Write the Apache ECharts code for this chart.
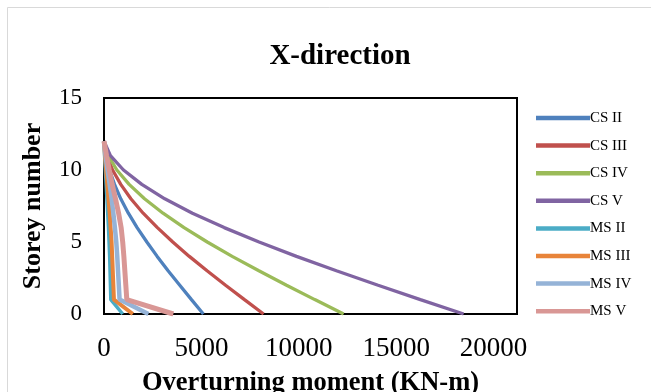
<!DOCTYPE html>
<html>
<head>
<meta charset="utf-8">
<script src="https://cdn.jsdelivr.net/npm/echarts@6/dist/echarts.min.js"></script>
<style>
html,body{margin:0;padding:0;background:#fff;}
#c{width:651px;height:392px;}
</style>
</head>
<body>
<div id="c"></div>
<script>
// Storey levels (0 = base, 12 = roof)
const storeys = [0, 1, 2, 3, 4, 5, 6, 7, 8, 9, 10, 11, 12];

// Overturning moment (KN-m) at each storey
const csII  = [5100, 4490, 3890, 3290, 2730, 2200, 1700, 1250, 860, 540, 280, 90, 0];
const csIII = [8190, 7210, 6240, 5290, 4380, 3530, 2740, 2010, 1380, 860, 440, 150, 0];
const csIV  = [12300, 10820, 9370, 7950, 6580, 5300, 4110, 3030, 2080, 1290, 660, 220, 0];
const csV   = [18460, 16240, 14070, 11930, 9880, 7960, 6170, 4540, 3120, 1940, 1000, 330, 0];
const msII  = [960, 350, 330, 310, 290, 260, 230, 190, 150, 110, 70, 30, 0];
const msIII = [1480, 510, 480, 450, 420, 390, 340, 290, 230, 170, 110, 50, 0];
const msIV  = [2280, 800, 760, 720, 680, 630, 560, 480, 390, 290, 180, 80, 0];
const msV   = [3560, 1170, 1120, 1070, 1020, 960, 880, 750, 590, 420, 270, 130, 0];

const seriesNames = ['CS II', 'CS III', 'CS IV', 'CS V', 'MS II', 'MS III', 'MS IV', 'MS V'];
const seriesValues = [csII, csIII, csIV, csV, msII, msIII, msIV, msV];
const colors = ['#4F81BD', '#C0504D', '#9BBB59', '#8064A2', '#4BACC6', '#E8843A', '#95B3D7', '#D99795'];
const widths = [3.3, 3.3, 3.3, 3.3, 3.5, 4, 4.5, 5];

const xTicks = [0, 5000, 10000, 15000, 20000];

const font = 'Liberation Serif, Times New Roman, serif';

const chart = echarts.init(document.getElementById('c'), null, {renderer: 'canvas'});

chart.setOption({
  animation: false,
  backgroundColor: '#fff',
  color: colors,
  title: {
    text: 'X-direction',
    left: 335,
    textAlign: 'center',
    top: 37,
    textStyle: {fontFamily: font, fontSize: 29, fontWeight: 'bold', color: '#000'}
  },
  graphic: [{
    type: 'rect',
    shape: {x: 7.5, y: 7.5, width: 700, height: 450},
    style: {fill: 'none', stroke: '#d9d9d9', lineWidth: 1},
    silent: true
  }],
  legend: {
    orient: 'vertical',
    left: 531,
    top: 105.5,
    itemWidth: 54,
    itemHeight: 4.5,
    itemGap: 12.6,
    icon: 'rect',
    align: 'left',
    data: seriesNames,
    textStyle: {fontFamily: font, fontSize: 15, lineHeight: 15, color: '#000', padding: [0, 0, 0, -5]}
  },
  grid: {
    left: 104, right: 134, top: 98, bottom: 78,
    outerBoundsMode: 'none',
    containLabel: false,
    show: true, borderColor: '#000', borderWidth: 2, backgroundColor: 'transparent'
  },
  xAxis: {
    type: 'value',
    min: 0,
    max: 21200,
    interval: 5000,
    name: 'Overturning moment (KN-m)',
    nameLocation: 'middle',
    nameGap: 56,
    nameTextStyle: {fontFamily: font, fontSize: 26.5, fontWeight: 'bold', color: '#000'},
    axisLine: {show: true, lineStyle: {color: '#000', width: 2}},
    axisTick: {show: false},
    splitLine: {show: false},
    axisLabel: {
      fontFamily: font, fontSize: 27, color: '#000', margin: 21,
      showMaxLabel: false,
      formatter: function (v) { return xTicks.indexOf(v) >= 0 ? String(v) : ''; }
    }
  },
  yAxis: {
    type: 'value',
    min: 0,
    max: 15,
    interval: 5,
    name: 'Storey number',
    nameLocation: 'middle',
    nameRotate: 90,
    nameGap: 58,
    nameTextStyle: {fontFamily: font, fontSize: 26, fontWeight: 'bold', color: '#000'},
    axisLine: {show: true, lineStyle: {color: '#000', width: 2}},
    axisTick: {show: false},
    splitLine: {show: false},
    axisLabel: {fontFamily: font, fontSize: 23, color: '#000', margin: 22}
  },
  series: seriesNames.map(function (name, i) {
    return {
      name: name,
      type: 'line',
      symbol: 'none',
      smooth: false,
      lineStyle: {width: widths[i], color: colors[i]},
      itemStyle: {color: colors[i]},
      data: storeys.map(function (s, k) { return [seriesValues[i][k], s]; })
    };
  })
});
</script>
</body>
</html>
